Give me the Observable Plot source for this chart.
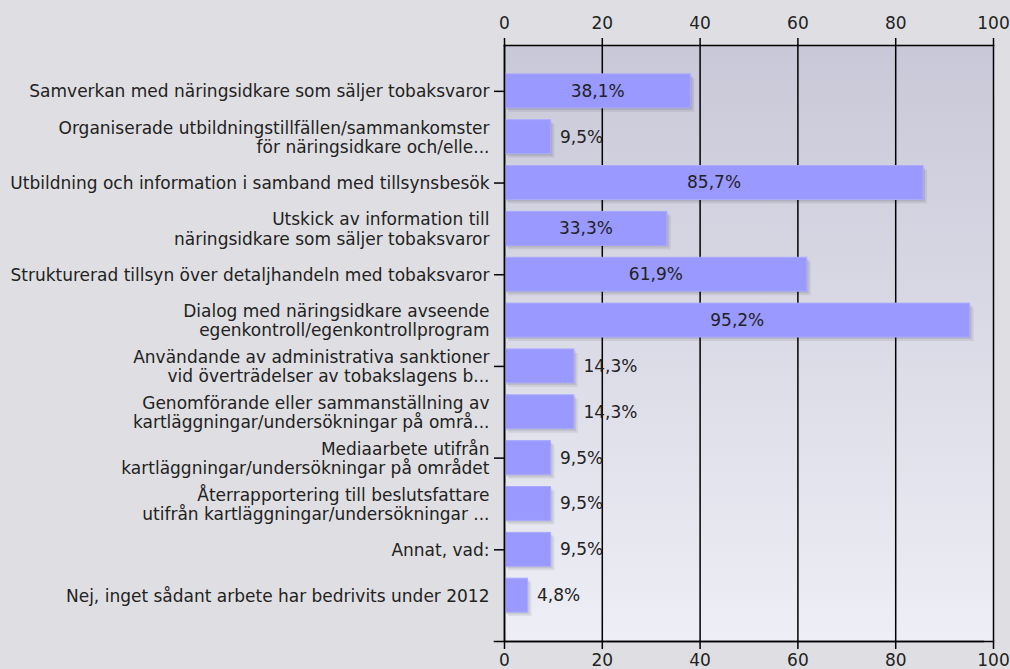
<!DOCTYPE html>
<html>
<head>
<meta charset="utf-8">
<script src="https://cdn.jsdelivr.net/npm/d3@7"></script>
<script src="https://cdn.jsdelivr.net/npm/@observablehq/plot@0.6"></script>
<style>
  html, body { margin: 0; padding: 0; background: #dfdfe3; }
  #chart { width: 1010px; height: 669px; }
</style>
</head>
<body>
<div id="chart"></div>
<script>
const categories = [
  "Samverkan med näringsidkare som säljer tobaksvaror",
  "Organiserade utbildningstillfällen/sammankomster\nför näringsidkare och/elle...",
  "Utbildning och information i samband med tillsynsbesök",
  "Utskick av information till\nnäringsidkare som säljer tobaksvaror",
  "Strukturerad tillsyn över detaljhandeln med tobaksvaror",
  "Dialog med näringsidkare avseende\negenkontroll/egenkontrollprogram",
  "Användande av administrativa sanktioner\nvid överträdelser av tobakslagens b...",
  "Genomförande eller sammanställning av\nkartläggningar/undersökningar på områ...",
  "Mediaarbete utifrån\nkartläggningar/undersökningar på området",
  "Återrapportering till beslutsfattare\nutifrån kartläggningar/undersökningar ...",
  "Annat, vad:",
  "Nej, inget sådant arbete har bedrivits under 2012"
];
const values = [38.1, 9.5, 85.7, 33.3, 61.9, 95.2, 14.3, 14.3, 9.5, 9.5, 9.5, 4.8];
const xTicks = [0, 20, 40, 60, 80, 100];

const data = categories.map((c, i) => ({cat: c, v: values[i]}));
const fmt = v => v.toFixed(1).replace(".", ",") + "%";
const tickedCats = categories.filter((c, i) => i % 2 === 0);
const FS = 17;

const svg = Plot.plot({
  width: 1010,
  height: 669,
  marginLeft: 504,
  marginRight: 17,
  marginTop: 45,
  marginBottom: 28,
  style: {fontFamily: "DejaVu Sans", fontSize: "17px", color: "#222", background: "transparent", overflow: "visible"},
  x: {domain: [0, 100]},
  y: {domain: categories, paddingInner: 0.26, paddingOuter: 0.63, round: false},
  marks: [
    Plot.frame({fill: "#ddd", stroke: null}),
    Plot.gridX(xTicks, {stroke: "#000", strokeOpacity: 1, strokeWidth: 1.5}),
    Plot.barX(data, {x: "v", y: "cat", fill: "#000", fillOpacity: 0.07, dx: 4, dy: 4}),
    Plot.barX(data, {x: "v", y: "cat", fill: "#000", fillOpacity: 0.09, dx: 2, dy: 2}),
    Plot.barX(data, {x: "v", y: "cat", fill: "#9999ff", stroke: "#a9a9ff", strokeWidth: 1, insetLeft: 1}),
    Plot.text(data.filter(d => d.v >= 20), {x: d => d.v / 2, y: "cat", text: d => fmt(d.v), fill: "#222", fontSize: FS}),
    Plot.text(data.filter(d => d.v < 20), {x: "v", y: "cat", text: d => fmt(d.v), dx: 9, textAnchor: "start", fill: "#222", fontSize: FS}),
    Plot.frame({anchor: "top", stroke: "#000", strokeWidth: 1.5}),
    Plot.frame({anchor: "bottom", stroke: "#000", strokeWidth: 1.5}),
    Plot.frame({anchor: "bottom", stroke: "#000", strokeWidth: 1.5, dx: -10}),
    Plot.frame({anchor: "left", stroke: "#000", strokeWidth: 1.5}),
    Plot.axisX({anchor: "top", ticks: xTicks, tickSize: 8, tickPadding: 9, strokeWidth: 1.5, stroke: "#000", label: null, fontSize: FS, fill: "#222"}),
    Plot.axisX({anchor: "bottom", ticks: xTicks, tickSize: 8, tickPadding: 4, strokeWidth: 1.5, stroke: "#000", label: null, fontSize: FS, fill: "#222"}),
    Plot.axisY({ticks: tickedCats, tickSize: 10, text: null, strokeWidth: 1.5, stroke: "#000", label: null}),
    Plot.axisY({tickSize: 0, tickPadding: 15, label: null, lineHeight: 1.12, fontSize: FS, fill: "#222"})
  ]
});

const root = d3.select(svg);
const defs = root.insert("defs", ":first-child");
const grad = defs.append("linearGradient").attr("id", "bgGrad").attr("x1", 0).attr("y1", 0).attr("x2", 0).attr("y2", 1);
grad.append("stop").attr("offset", "0%").attr("stop-color", "#c8c8d8");
grad.append("stop").attr("offset", "100%").attr("stop-color", "#eeeef6");
const frameEl = root.select("[aria-label=frame]");
frameEl.attr("fill", "url(#bgGrad)");
frameEl.selectAll("rect").attr("fill", "url(#bgGrad)");

document.getElementById("chart").appendChild(svg);
</script>
</body>
</html>
